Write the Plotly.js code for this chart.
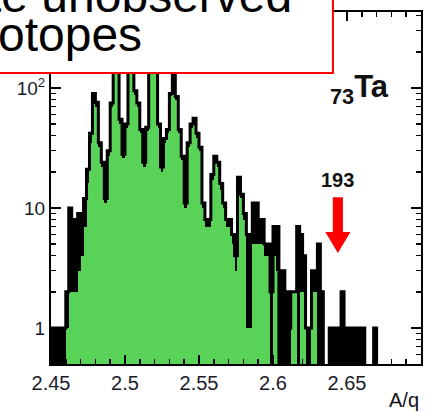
<!DOCTYPE html>
<html>
<head>
<meta charset="utf-8">
<script src="https://cdn.plot.ly/plotly-3.0.1.min.js"></script>
<style>
  html, body { margin: 0; padding: 0; background: #fff; }
  #chart { width: 434px; height: 412px; }
</style>
</head>
<body>
<div id="chart"></div>
<script>
// Histogram binning along A/q
const binStart = 2.45;
const binWidth = 0.002;

// Counts per bin, all events (black outline)
const allCounts = [
  1, 1, 1, 1, 1, 2, 10, 7, 8, 9,
  9, 12, 21, 42, 90, 76, 35, 24, 12, 30,
  75, 170, 190, 55, 28, 50, 160, 220, 95, 75,
  45, 24, 47, 200, 140, 260, 50, 22, 38, 45,
  90, 150, 85, 45, 27, 11, 35, 50, 56, 42,
  32, 11, 8, 8, 19, 27, 24, 16, 11, 8,
  8, 6, 4, 18, 13, 9, 6, 6, 11, 11,
  8, 8, 5, 5, 2, 7, 7, 0, 3, 2,
  1, 2, 2, 7, 6, 4, 1, 1, 3, 3,
  5, 2, 0, 0, 1, 1, 1, 1, 2, 1,
  1, 1, 0, 1, 0, 1, 0, 0, 0, 1,
  0, 0, 0, 0, 0, 0, 0, 0, 0, 0,
  0, 0, 0, 0, 0
];

// Counts per bin, identified events (green fill)
const gatedCounts = [
  0, 0, 0, 0, 0, 1, 2, 2, 2, 3,
  4, 7, 16, 35, 80, 70, 32, 22, 11, 27,
  70, 160, 180, 50, 26, 46, 150, 210, 88, 70,
  42, 22, 44, 190, 130, 250, 46, 20, 35, 42,
  85, 140, 80, 42, 25, 10, 32, 46, 52, 38,
  30, 10, 7, 7, 17, 25, 22, 14, 10, 7,
  7, 5, 3, 16, 12, 8, 1, 1, 5, 5,
  5, 5, 4, 4, 0, 4, 3, 0, 0, 0,
  0, 2, 2, 0, 2, 2, 0, 0, 2, 2,
  0, 0, 0, 0, 0, 0, 0, 0, 0, 0,
  0, 0, 0, 0, 0, 0, 0, 0, 0, 0,
  0, 0, 0, 0, 0, 0, 0, 0, 0, 0,
  0, 0, 0, 0, 0
];

// Axis ticks
const xTickVals = [2.45, 2.5, 2.55, 2.6, 2.65, 2.7];
const xTickText = ['2.45', '2.5', '2.55', '2.6', '2.65', '2.7'];
const yTickVals = [1, 10, 100];
const yTickText = ['1', '10', '10<sup>2</sup>'];

// Marked isotope: mass number and element charge
const element = { z: 73, symbol: 'Ta' };
const markedMass = 193;

const green = 'rgb(88,211,88)';
const font = 'Liberation Sans, Arial, sans-serif';

const centers = allCounts.map((_, i) => binStart + (i + 0.5) * binWidth);
const edges = allCounts.map((_, i) => binStart + i * binWidth);
edges.push(binStart + allCounts.length * binWidth);

// Step outline of the full spectrum; empty bins drop below the axis
const floorVal = 1e-3;
const stepX = [edges[0]];
const stepY = [floorVal];
allCounts.forEach((c, i) => { stepX.push(edges[i]); stepY.push(c > 0 ? c : floorVal); });
stepX.push(edges[edges.length - 1]); stepY.push(allCounts[allCounts.length - 1] || floorVal);

// Minor log ticks 2..9 per decade
const yMinor = [];
for (let d = -1; d <= 2; d++) for (let m = 2; m <= 9; m++) yMinor.push(m * Math.pow(10, d));

const traces = [
  { type: 'bar', x: centers, y: allCounts, width: binWidth,
    marker: { color: 'black', line: { width: 0 } }, hoverinfo: 'skip' },
  { type: 'bar', x: centers, y: gatedCounts, width: binWidth,
    marker: { color: green, line: { width: 0 } }, hoverinfo: 'skip' },
  { type: 'scatter', mode: 'lines', x: stepX, y: stepY,
    line: { shape: 'hv', color: 'black', width: 3 }, hoverinfo: 'skip' }
];

const arrowX = markedMass / element.z;
const shaftHalf = 0.0034, headHalf = 0.0085;
const arrowPath = [
  'M', arrowX - shaftHalf, 0.474,
  'L', arrowX + shaftHalf, 0.474,
  'L', arrowX + shaftHalf, 0.375,
  'L', arrowX + headHalf, 0.375,
  'L', arrowX, 0.315,
  'L', arrowX - headHalf, 0.375,
  'L', arrowX - shaftHalf, 0.375, 'Z'
].join(' ');

const layout = {
  width: 434, height: 412,
  margin: { l: 51, r: 13, t: 12, b: 48 },
  paper_bgcolor: 'white', plot_bgcolor: 'white',
  showlegend: false, barmode: 'overlay', bargap: 0,
  font: { family: font, color: '#111' },
  xaxis: {
    range: [2.45, 2.7], tickmode: 'array', tickvals: xTickVals, ticktext: xTickText,
    ticks: 'inside', ticklen: 9, tickwidth: 1.5, tickcolor: 'black',
    showline: true, linewidth: 2, linecolor: 'black', mirror: 'ticks',
    showgrid: false, zeroline: false,
    tickfont: { family: font, size: 20, color: '#1b1b2b' },
    minor: { ticks: 'inside', ticklen: 5, tickwidth: 1.5, tickcolor: 'black', dtick: 0.01, tick0: 2.45, showgrid: false }
  },
  yaxis: {
    type: 'log', range: [-0.3, 2.633], tickmode: 'array', tickvals: yTickVals, ticktext: yTickText,
    ticks: 'inside', ticklen: 10, tickwidth: 1.5, tickcolor: 'black',
    showline: true, linewidth: 2, linecolor: 'black', mirror: 'ticks',
    showgrid: false, zeroline: false,
    tickfont: { family: font, size: 19, color: '#1b1b2b' },
    minor: { ticks: 'inside', ticklen: 5, tickwidth: 1.5, tickcolor: 'black', tickmode: 'array', tickvals: yMinor, showgrid: false }
  },
  shapes: [
    { type: 'path', xref: 'x', yref: 'paper', path: arrowPath,
      fillcolor: 'red', line: { width: 0 }, layer: 'above' },
    { type: 'rect', xref: 'paper', yref: 'paper', x0: -0.16, x1: 0.762, y0: 0.827, y1: 1.06,
      fillcolor: 'white', line: { color: 'red', width: 2 }, layer: 'above' }
  ],
  annotations: [
    { xref: 'paper', yref: 'paper', x: 0.657, y: 1.047, xanchor: 'right', yanchor: 'middle',
      text: 'te unobserved', showarrow: false, font: { family: font, size: 48, color: 'black' } },
    { xref: 'paper', yref: 'paper', x: 0.252, y: 0.935, xanchor: 'right', yanchor: 'middle',
      text: 'otopes', showarrow: false, font: { family: font, size: 48, color: 'black' } },
    { xref: 'paper', yref: 'paper', x: 0.918, y: 0.78, xanchor: 'right', yanchor: 'middle',
      text: '<b><sub>' + element.z + '</sub>' + element.symbol + '</b>', showarrow: false,
      font: { family: font, size: 31, color: '#111' } },
    { xref: 'x', yref: 'paper', x: arrowX, y: 0.523, xanchor: 'center', yanchor: 'middle',
      text: '<b>' + markedMass + '</b>', showarrow: false, font: { family: font, size: 20, color: '#111' } },
    { xref: 'paper', yref: 'paper', x: 1.0, y: -0.103, xanchor: 'right', yanchor: 'middle',
      text: 'A/q', showarrow: false, font: { family: font, size: 20, color: '#111' } }
  ]
};

Plotly.newPlot('chart', traces, layout, { staticPlot: true, displayModeBar: false });
</script>
</body>
</html>
